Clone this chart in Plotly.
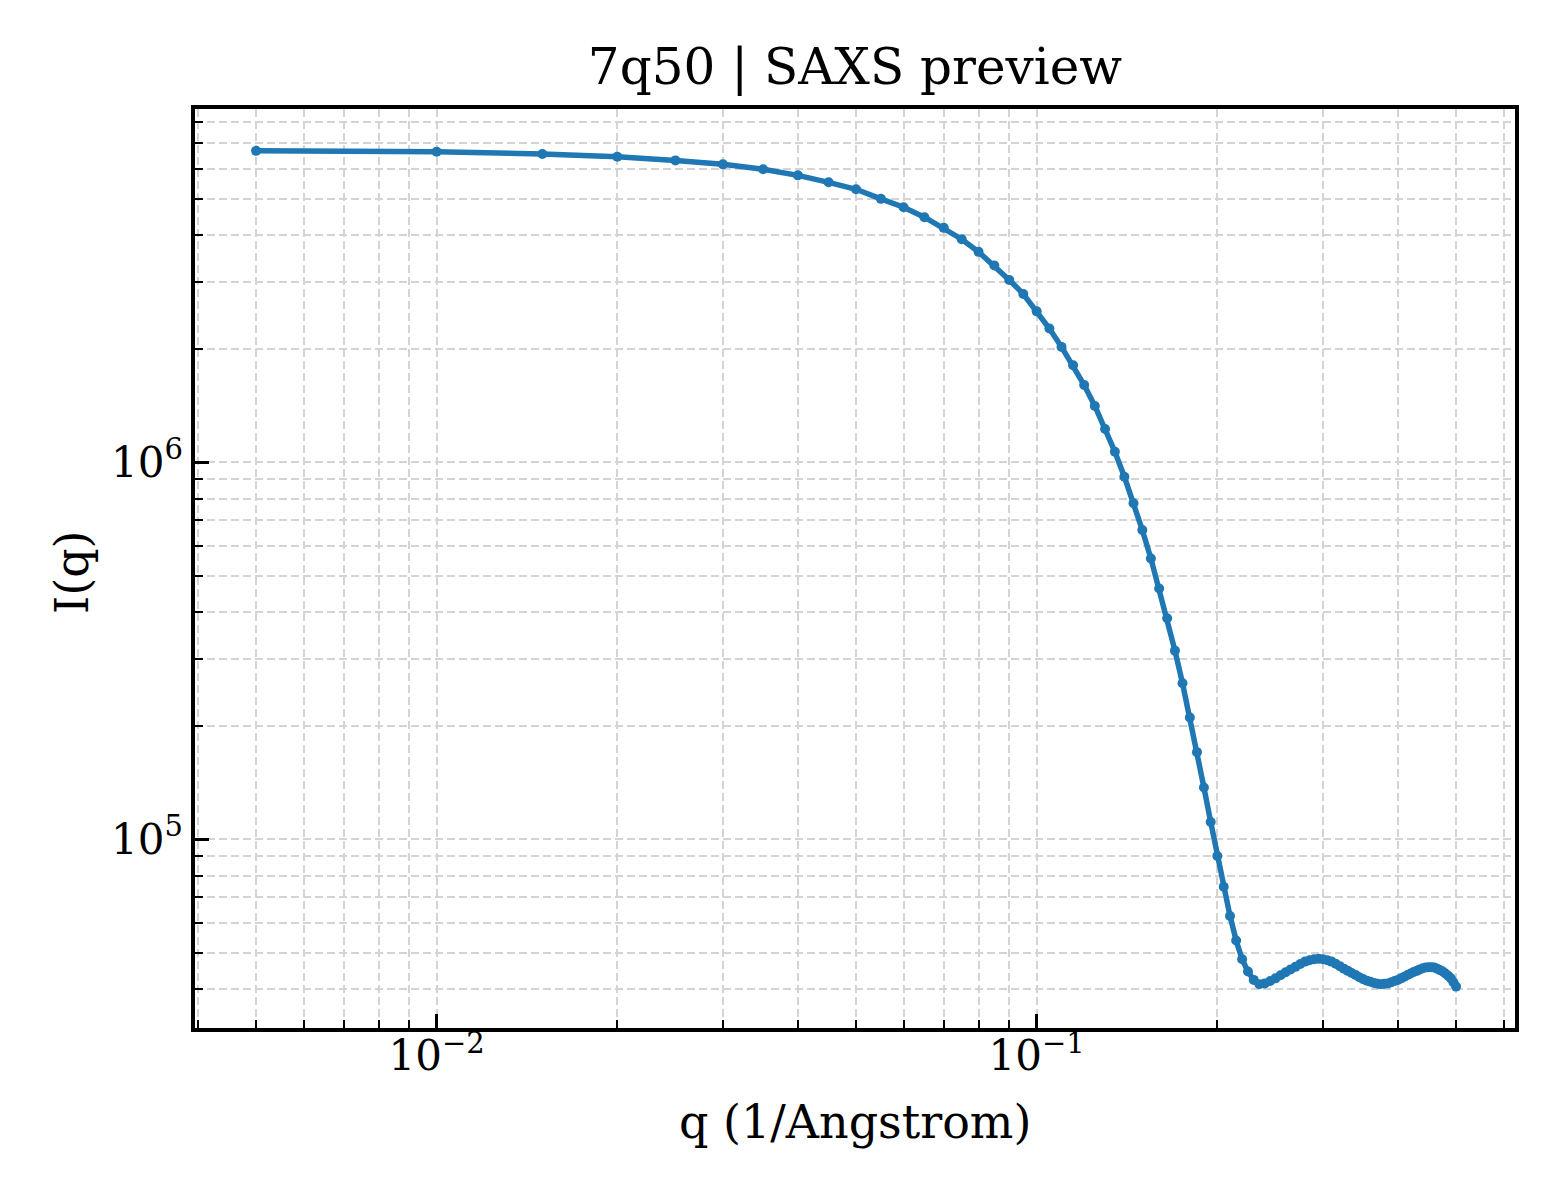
# SAXS preview curve for 7q50, log-log plot of I(q)

import plotly.graph_objects as go

# q values (1/Angstrom), 0.005 steps
q = [round(0.005 * (i + 1), 3) for i in range(100)]

# intensities read from the preview
intensity = [
    6.69e6, 6.65e6, 6.56e6, 6.45e6, 6.31e6, 6.16e6, 5.98e6, 5.76e6, 5.52e6, 5.29e6,
    4.99e6, 4.74e6, 4.46e6, 4.18e6, 3.90e6, 3.61e6, 3.32e6, 3.04e6, 2.79e6, 2.51e6,
    2.26e6, 2.02e6, 1.805e6, 1.60e6, 1.408e6, 1.223e6, 1.065e6, 9.14e5, 7.77e5, 6.60e5,
    5.55e5, 4.62e5, 3.85e5, 3.16e5, 2.59e5, 2.10e5, 1.70e5, 1.37e5, 1.11e5, 9.01e4,
    7.47e4, 6.25e4, 5.38e4, 4.80e4, 4.45e4, 4.23e4, 4.12e4, 4.14e4, 4.20e4, 4.27e4,
    4.35e4, 4.43e4, 4.51e4, 4.58e4, 4.66e4, 4.73e4, 4.77e4, 4.80e4, 4.81e4, 4.80e4,
    4.77e4, 4.73e4, 4.67e4, 4.60e4, 4.53e4, 4.47e4, 4.41e4, 4.36e4, 4.30e4, 4.25e4,
    4.21e4, 4.18e4, 4.15e4, 4.13e4, 4.12e4, 4.13e4, 4.14e4, 4.17e4, 4.20e4, 4.23e4,
    4.27e4, 4.31e4, 4.36e4, 4.40e4, 4.44e4, 4.47e4, 4.51e4, 4.54e4, 4.56e4, 4.57e4,
    4.57e4, 4.56e4, 4.53e4, 4.49e4, 4.45e4, 4.40e4, 4.34e4, 4.27e4, 4.17e4, 4.06e4,
]

# major tick positions and labels
x_ticks = [0.01, 0.1]
x_labels = ["−2", "−1"]
y_ticks = [1e5, 1e6]
y_labels = ["5", "6"]

font = "DejaVu Serif"
grid_color = "#d4d4d4"


def power_label(exp):
    # 10^exp with a smaller exponent, like matplotlib mathtext
    return '10<sup><span style="font-size:29px">%s</span></sup>' % exp


fig = go.Figure()
fig.add_trace(go.Scatter(
    x=q, y=intensity, mode="lines+markers",
    line=dict(color="#1f77b4", width=5.5),
    marker=dict(color="#1f77b4", size=10),
))

axis_style = dict(
    type="log", showline=True, linecolor="black", linewidth=3.5, mirror=True,
    ticks="inside", ticklen=14, tickwidth=3, tickcolor="black",
    showgrid=True, gridcolor=grid_color, griddash="8px,4px", gridwidth=1.5,
    zeroline=False,
    tickfont=dict(family=font, size=42, color="black"),
    minor=dict(dtick="D1", ticks="inside", ticklen=8, tickwidth=2.2,
               tickcolor="black", showgrid=True, gridcolor=grid_color,
               griddash="8px,4px", gridwidth=1.5),
)

fig.update_xaxes(axis_style, range=[-2.4028, -0.2028], ticklabelstandoff=-12,
                 tickvals=x_ticks, ticktext=[power_label(e) for e in x_labels])
fig.update_yaxes(axis_style, range=[4.4987, 6.9364],
                 tickvals=y_ticks, ticktext=[power_label(e) for e in y_labels])

# axis titles
fig.add_annotation(text="q (1/Angstrom)", xref="paper", yref="paper",
                   x=0.5, y=-0.1023, xanchor="center", yanchor="middle",
                   showarrow=False, font=dict(family=font, size=46, color="black"))
fig.add_annotation(text="I(q)", xref="paper", yref="paper", textangle=-90,
                   x=-0.0932, y=0.4962, xanchor="center", yanchor="middle",
                   showarrow=False, font=dict(family=font, size=46, color="black"))

# page body adds an 8px offset, so the figure is 8px smaller
fig.update_layout(
    width=1552, height=1192,
    margin=dict(l=187, r=45, t=101, b=172),
    plot_bgcolor="white", paper_bgcolor="white",
    showlegend=False,
    title=dict(text="7q50 | SAXS preview", xref="paper", x=0.5, xanchor="center",
               yref="container", y=0.9513, yanchor="middle",
               font=dict(family=font, size=50, color="black")),
)

fig.write_html("out.html")
